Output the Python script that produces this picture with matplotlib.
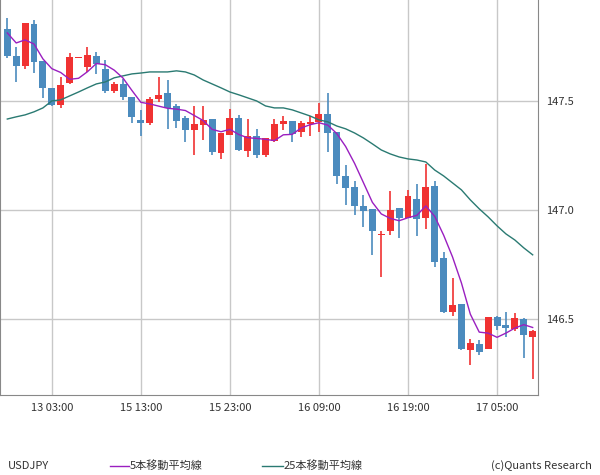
import matplotlib
matplotlib.use('Agg')
import matplotlib.pyplot as plt
import numpy as np
import pandas as pd

plt.rcParams['font.family'] = ['Noto Sans CJK JP']

# hourly USDJPY candles
opens = [147.830, 147.706, 147.661, 147.853, 147.683, 147.560, 147.482, 147.583, 147.697, 147.656,
         147.706, 147.647, 147.546, 147.578, 147.518, 147.413, 147.399, 147.509, 147.537, 147.477,
         147.422, 147.367, 147.390, 147.417, 147.261, 147.344, 147.422, 147.271, 147.339, 147.252,
         147.317, 147.394, 147.408, 147.358, 147.394, 147.404, 147.440, 147.358, 147.156, 147.106,
         147.018, 147.005, 146.885, 146.904, 147.009, 146.963, 147.050, 146.963, 147.110, 146.780,
         146.532, 146.569, 146.358, 146.385, 146.362, 146.509, 146.472, 146.454, 146.500, 146.417]
highs = [147.881, 147.748, 147.858, 147.872, 147.683, 147.560, 147.610, 147.720, 147.702, 147.748,
         147.725, 147.688, 147.587, 147.601, 147.518, 147.459, 147.518, 147.610, 147.596, 147.486,
         147.431, 147.477, 147.477, 147.417, 147.353, 147.463, 147.436, 147.417, 147.372, 147.330,
         147.417, 147.431, 147.408, 147.408, 147.431, 147.491, 147.537, 147.358, 147.206, 147.133,
         147.069, 147.005, 146.904, 147.087, 147.009, 147.092, 147.119, 147.211, 147.133, 146.807,
         146.688, 146.569, 146.408, 146.404, 146.509, 146.514, 146.532, 146.528, 146.505, 146.450]
lows = [147.697, 147.587, 147.647, 147.628, 147.514, 147.477, 147.468, 147.578, 147.697, 147.633,
        147.624, 147.537, 147.537, 147.505, 147.399, 147.339, 147.390, 147.495, 147.372, 147.376,
        147.312, 147.252, 147.321, 147.252, 147.234, 147.344, 147.271, 147.243, 147.239, 147.243,
        147.312, 147.367, 147.312, 147.335, 147.339, 147.358, 147.266, 147.119, 147.023, 146.977,
        146.922, 146.794, 146.693, 146.885, 146.872, 146.963, 146.881, 146.913, 146.739, 146.528,
        146.514, 146.358, 146.289, 146.335, 146.362, 146.450, 146.417, 146.445, 146.321, 146.225]
closes = [147.706, 147.661, 147.858, 147.679, 147.560, 147.482, 147.573, 147.702, 147.702, 147.711,
          147.670, 147.546, 147.578, 147.518, 147.427, 147.399, 147.509, 147.528, 147.468, 147.408,
          147.367, 147.394, 147.413, 147.266, 147.353, 147.422, 147.275, 147.339, 147.252, 147.330,
          147.394, 147.408, 147.349, 147.399, 147.404, 147.440, 147.353, 147.156, 147.101, 147.018,
          146.995, 146.904, 146.890, 147.000, 146.963, 147.064, 146.959, 147.106, 146.761, 146.532,
          146.564, 146.362, 146.390, 146.349, 146.509, 146.468, 146.459, 146.505, 146.427, 146.445]

# first 4 MA5 points depend on bars before the window
ma5_head = [147.812, 147.766, 147.780, 147.761]
ma25 = [147.417, 147.427, 147.436, 147.450, 147.468, 147.500, 147.505, 147.523, 147.541, 147.560,
        147.578, 147.587, 147.606, 147.615, 147.624, 147.628, 147.633, 147.633, 147.633, 147.638,
        147.633, 147.619, 147.596, 147.578, 147.560, 147.541, 147.528, 147.514, 147.500, 147.477,
        147.468, 147.468, 147.459, 147.445, 147.431, 147.413, 147.404, 147.385, 147.372, 147.353,
        147.330, 147.303, 147.275, 147.257, 147.243, 147.234, 147.229, 147.220, 147.183, 147.156,
        147.124, 147.092, 147.046, 147.005, 146.968, 146.927, 146.890, 146.862, 146.826, 146.794]

xtick_pos = [5, 15, 25, 35, 45, 55]
xtick_labels = ['13 03:00', '15 13:00', '15 23:00', '16 09:00', '16 19:00', '17 05:00']
yticks = [146.5, 147.0, 147.5]

ma5 = pd.Series(closes).rolling(5).mean().to_numpy()
ma5[:4] = ma5_head

up_col = '#f03232'
dn_col = '#4b8bbe'
grid_col = '#c8c8c8'

fig = plt.figure(figsize=(6, 4.75), dpi=100)
ax = fig.add_axes([0.0, 1 - 395 / 475, 538 / 600, 395 / 475])

x = np.arange(len(closes))
for i in x:
    o, h, l, c = opens[i], highs[i], lows[i], closes[i]
    col = up_col if c >= o else dn_col
    ax.vlines(i, l, h, color=col, linewidth=1.2, zorder=3)
    ax.bar(i, max(abs(c - o), 0.004), bottom=min(o, c), width=0.78, color=col, zorder=3)

ax.plot(x, ma25, color='#2a7a72', linewidth=1.0, zorder=4)
ax.plot(x, ma5, color='#9a1fc0', linewidth=1.0, zorder=4)

ax.set_xlim(-0.82, 59.6)
ax.set_ylim(146.151, 147.963)
ax.set_xticks(xtick_pos)
ax.set_xticklabels(xtick_labels, fontsize=8, color='#333333')
ax.set_yticks(yticks)
ax.set_yticklabels([f'{v:.1f}' for v in yticks], fontsize=8, color='#333333')
ax.yaxis.tick_right()
ax.tick_params(length=0, pad=6)
ax.grid(True, color=grid_col, linewidth=1)
ax.set_axisbelow(True)
for s in ax.spines.values():
    s.set_color('#888888')
ax.spines['top'].set_visible(False)

fig.text(8 / 600, 1 - 466 / 475, 'USDJPY', fontsize=8, color='#333333', va='center')
fig.lines.append(plt.Line2D([110 / 600, 129 / 600], [1 - 466 / 475] * 2, color='#9a1fc0', linewidth=1, transform=fig.transFigure))
fig.text(130 / 600, 1 - 466 / 475, '5本移動平均線', fontsize=8, color='#333333', va='center')
fig.lines.append(plt.Line2D([262 / 600, 283 / 600], [1 - 466 / 475] * 2, color='#2a7a72', linewidth=1, transform=fig.transFigure))
fig.text(284 / 600, 1 - 466 / 475, '25本移動平均線', fontsize=8, color='#333333', va='center')
fig.text(592 / 600, 1 - 466 / 475, '(c)Quants Research', fontsize=8, color='#333333', va='center', ha='right')

fig.savefig('out.png', dpi=100)
